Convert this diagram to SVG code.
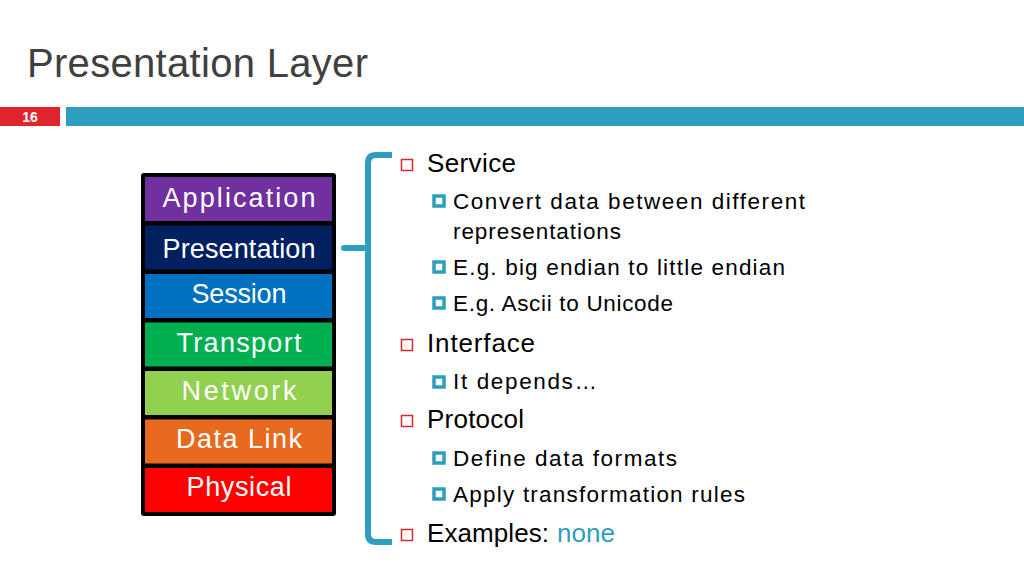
<svg xmlns="http://www.w3.org/2000/svg" width="1024" height="576" viewBox="0 0 1024 576">
<style>
text{font-family:"Liberation Sans","DejaVu Sans",sans-serif}
.title{font-size:40px;fill:#404040}
.lay{font-size:27px;fill:#fff;text-anchor:middle}
.l1{font-size:26px;fill:#000}
.l2{font-size:22.5px;fill:#000}
.b1{fill:none;stroke:#E0242B;stroke-width:1.5}
.b2{fill:#fff;stroke:#2E9EBF;stroke-width:3.5}
.brace{fill:none;stroke:#2E9EBF;stroke-width:6}
</style>
<rect width="1024" height="576" fill="#fff"/>
<g id="header">
<text class="title" x="27" y="77" textLength="341">Presentation Layer</text>
<rect x="0" y="107" width="60" height="19" fill="#E0242B"/>
<text x="30" y="122" font-size="14" font-weight="bold" fill="#fff" text-anchor="middle">16</text>
<rect x="66" y="107" width="958" height="19" fill="#2E9EBF"/>
</g>
<g id="stack">
<rect x="141" y="173" width="195" height="343" rx="3" fill="#000"/>
<g id="application"><rect x="145" y="177" width="187" height="44" fill="#7030A0"/><text class="lay" x="239" y="207" textLength="153">Application</text></g>
<g id="presentation"><rect x="145" y="225.5" width="187" height="44" fill="#002060"/><text class="lay" x="239" y="258" font-size="26" textLength="153">Presentation</text></g>
<g id="session"><rect x="145" y="274" width="187" height="44" fill="#0070C0"/><text class="lay" x="239" y="303" textLength="95">Session</text></g>
<g id="transport"><rect x="145" y="322.5" width="187" height="44" fill="#00B050"/><text class="lay" x="239" y="352" textLength="125">Transport</text></g>
<g id="network"><rect x="145" y="371" width="187" height="44" fill="#92D050"/><text class="lay" x="239" y="400" textLength="115">Network</text></g>
<g id="datalink"><rect x="145" y="419.5" width="187" height="44" fill="#E86A1E"/><text class="lay" x="239" y="448" textLength="126">Data Link</text></g>
<g id="physical"><rect x="145" y="468" width="187" height="44" fill="#FF0000"/><text class="lay" x="239" y="496" textLength="105">Physical</text></g>
</g>
<g id="connectors">
<path class="brace" d="M392,155 H376 Q368,155 368,163 V534 Q368,542 376,542 H392"/>
<path class="brace" d="M344,248 H368" stroke-linecap="round"/>
</g>
<g id="bullets">
<rect class="b1" x="401.5" y="159.5" width="11" height="11"/>
<text class="l1" x="427" y="172" textLength="89">Service</text>
<rect class="b2" x="434" y="196" width="10" height="10"/>
<text class="l2" x="453" y="209" textLength="352">Convert data between different</text>
<text class="l2" x="453" y="239" textLength="168">representations</text>
<rect class="b2" x="434" y="262" width="10" height="10"/>
<text class="l2" x="453" y="275" textLength="332">E.g. big endian to little endian</text>
<rect class="b2" x="434" y="298" width="10" height="10"/>
<text class="l2" x="453" y="311" textLength="220">E.g. Ascii to Unicode</text>
<rect class="b1" x="401.5" y="339.5" width="11" height="11"/>
<text class="l1" x="427" y="352" textLength="108">Interface</text>
<rect class="b2" x="434" y="377" width="10" height="10"/>
<text class="l2" x="453" y="389" textLength="144">It depends…</text>
<rect class="b1" x="401.5" y="415.5" width="11" height="11"/>
<text class="l1" x="427" y="428" textLength="97">Protocol</text>
<rect class="b2" x="434" y="453" width="10" height="10"/>
<text class="l2" x="453" y="466" textLength="224">Define data formats</text>
<rect class="b2" x="434" y="489" width="10" height="10"/>
<text class="l2" x="453" y="502" textLength="292">Apply transformation rules</text>
<rect class="b1" x="401.5" y="529.5" width="11" height="11"/>
<text class="l1" x="427" y="542"><tspan textLength="122">Examples:</tspan><tspan x="557" fill="#2E9EBF" textLength="58">none</tspan></text>
</g>
</svg>
